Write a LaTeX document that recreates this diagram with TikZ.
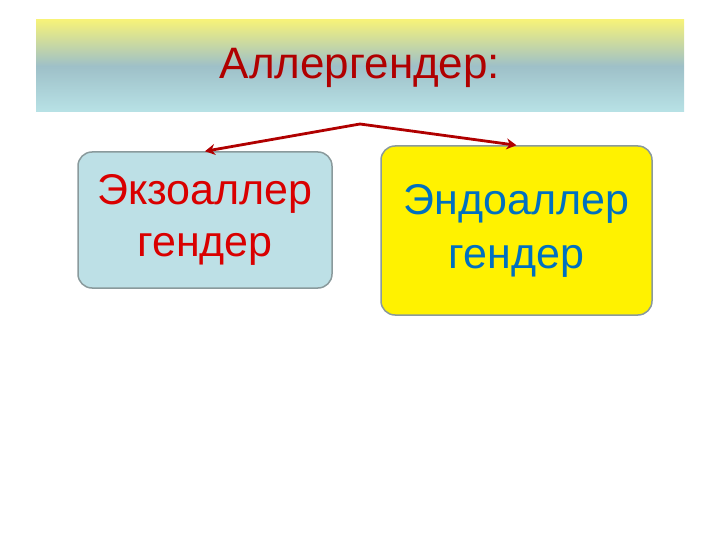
\documentclass[tikz,border=0pt]{standalone}
\usepackage{fontspec}
\setmainfont{Liberation Sans}
\usetikzlibrary{arrows.meta}
\definecolor{tyel}{HTML}{F6F27A}
\definecolor{tmid}{HTML}{9EC0C8}
\definecolor{tbot}{HTML}{B8E2E6}
\definecolor{darkred}{HTML}{B00000}
\definecolor{lblue}{HTML}{BDE0E6}
\definecolor{bordergray}{HTML}{8A9A9C}
\definecolor{tblue}{HTML}{0070C0}
\begin{document}
\begin{tikzpicture}[x=1pt,y=-1pt,
  box/.style={draw=bordergray,line width=1.5pt,rounded corners=14pt,align=center,inner sep=0pt},
  conn/.style={draw=darkred,line width=2.8pt,-{Stealth[length=10pt,width=11pt]}}]
\useasboundingbox (0,0) rectangle (720,540);
\shade[top color=tyel,bottom color=tbot,middle color=tmid] (36,20) rectangle (684,112);
\node[text=darkred,font=\fontsize{44}{50}\selectfont] (title) at (360,68) {Аллергендер:};
\node[box,fill=lblue,minimum width=254pt,minimum height=136pt,text=red!85!black,
  font=\fontsize{43}{52}\selectfont] (left) at (205,220) {Экзоаллер\\гендер};
\node[box,fill=yellow,minimum width=271pt,minimum height=169pt,text=tblue,
  font=\fontsize{43}{54}\selectfont] (right) at (516.5,230.5) {Эндоаллер\\гендер};
\coordinate (top) at (360,124);
\draw[conn] (top) -- (left.north);
\draw[conn] (top) -- (right.north);
\end{tikzpicture}
\end{document}
